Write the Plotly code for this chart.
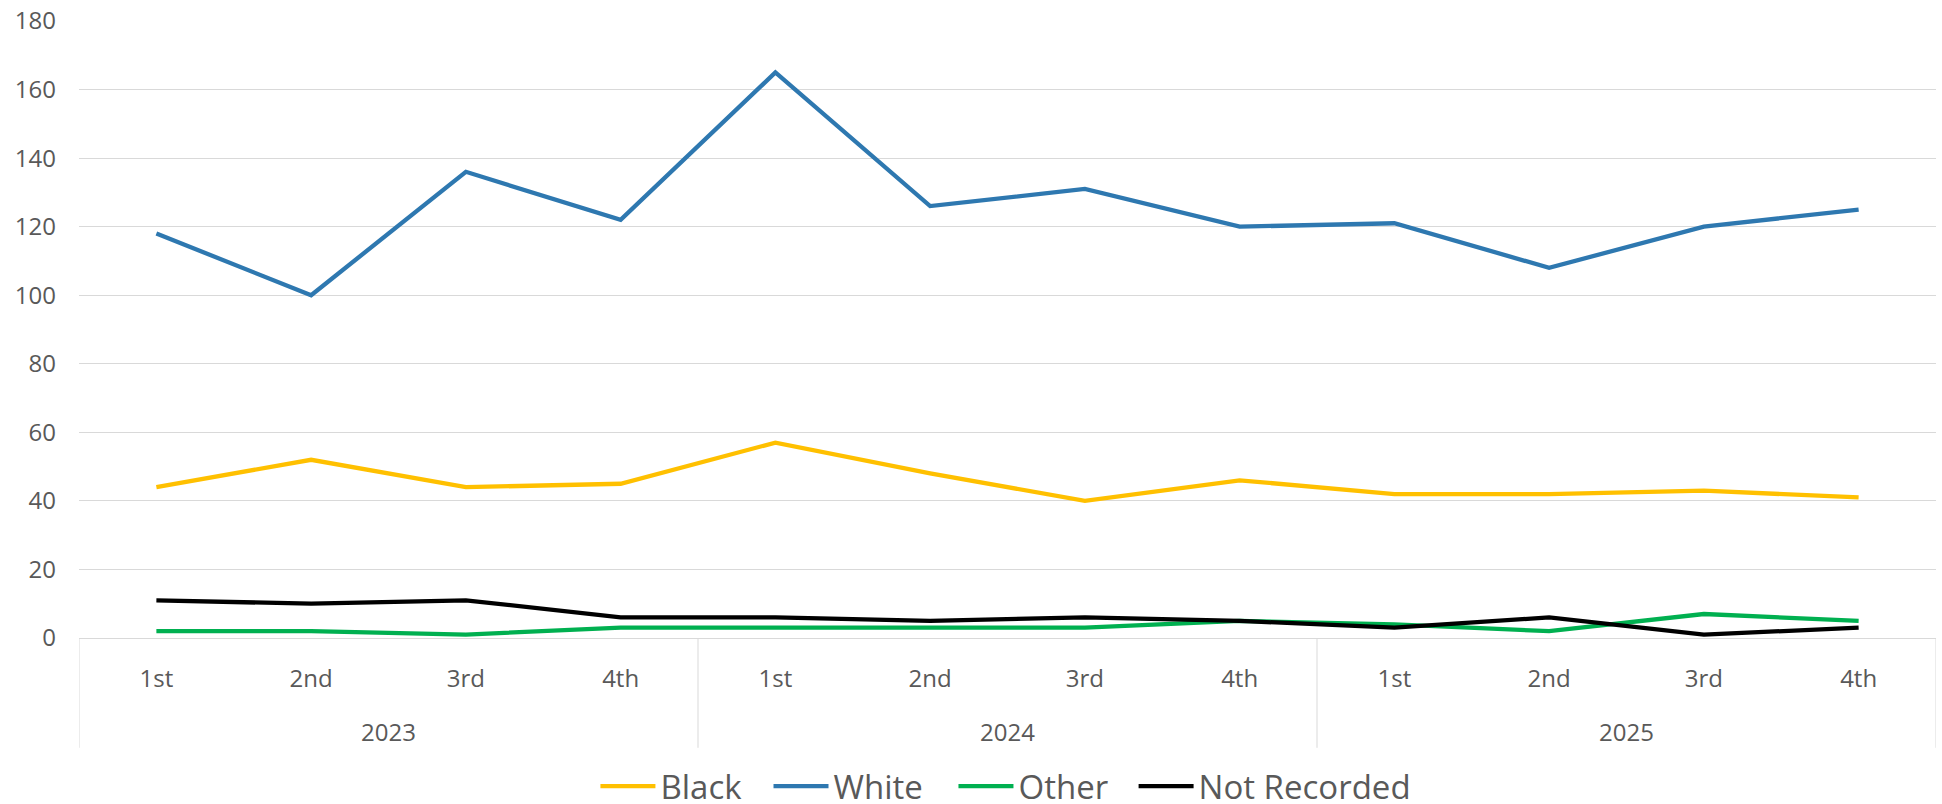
import plotly.graph_objects as go

years = ["2023", "2024", "2025"]
quarters = ["1st", "2nd", "3rd", "4th"]
y_ticks = [0, 20, 40, 60, 80, 100, 120, 140, 160, 180]

black = [44, 52, 44, 45, 57, 48, 40, 46, 42, 42, 43, 41]
white = [118, 100, 136, 122, 165, 126, 131, 120, 121, 108, 120, 125]
other = [2, 2, 1, 3, 3, 3, 3, 5, 4, 2, 7, 5]
not_recorded = [11, 10, 11, 6, 6, 5, 6, 5, 3, 6, 1, 3]

series = [
    ("Black", black, "#FFC000"),
    ("White", white, "#2E78B0"),
    ("Other", other, "#00B050"),
    ("Not Recorded", not_recorded, "#000000"),
]
# legend entry positions (fraction of plot width) and entry widths
legend_x = [0.2781, 0.3713, 0.4709, 0.5679]
legend_w = [100, 110, 105, 230]

n = len(years) * len(quarters)
xs = list(range(n))
tick_text = [q for _ in years for q in quarters]

FONT = "Open Sans"
TXT = "#595959"
GRID = "#D9D9D9"

fig = go.Figure()
legends = {}
for i, (name, vals, col) in enumerate(series):
    lname = "legend" if i == 0 else f"legend{i + 1}"
    fig.add_trace(go.Scatter(x=xs, y=vals, name=name, mode="lines",
                             line=dict(color=col, width=4.3), legend=lname))
    legends[lname] = dict(orientation="h", x=legend_x[i], xanchor="left",
                          y=-0.24, yanchor="middle", bgcolor="rgba(0,0,0,0)",
                          itemwidth=55, entrywidth=legend_w[i],
                          entrywidthmode="pixels",
                          font=dict(family=FONT, size=33, color=TXT))

shapes = []
nq = len(quarters)
for i in range(len(years) + 1):
    xb = i * nq - 0.5
    shapes.append(dict(type="line", xref="x", yref="paper", x0=xb, x1=xb,
                       y0=0, y1=-0.178, line=dict(color=GRID, width=1)))
annotations = []
for i, yr in enumerate(years):
    annotations.append(dict(x=i * nq + (nq - 1) / 2, y=-0.152, xref="x", yref="paper",
                            text=yr, showarrow=False, yanchor="middle",
                            font=dict(family=FONT, size=24, color=TXT)))

fig.update_layout(
    width=1942, height=804,
    margin=dict(l=79, r=6, t=21, b=166, autoexpand=False),
    paper_bgcolor="white", plot_bgcolor="white",
    font=dict(family=FONT, color=TXT, size=24),
    showlegend=True,
    shapes=shapes,
    annotations=annotations,
    xaxis=dict(range=[-0.5, n - 0.5], tickvals=xs, ticktext=tick_text,
               showgrid=False, zeroline=False, showline=True, linecolor=GRID,
               linewidth=1, ticks="", ticklabelstandoff=19, automargin=False,
               tickfont=dict(family=FONT, size=24, color=TXT)),
    yaxis=dict(range=[0, 180], tickvals=y_ticks, showgrid=True, gridcolor=GRID,
               gridwidth=1, zeroline=False, showline=False, ticks="",
               ticklabelstandoff=22, automargin=False,
               tickfont=dict(family=FONT, size=24, color=TXT)),
    **legends,
)

fig.write_html("out.html", config={"displayModeBar": False},
               post_script="document.body.style.margin='0px';")
